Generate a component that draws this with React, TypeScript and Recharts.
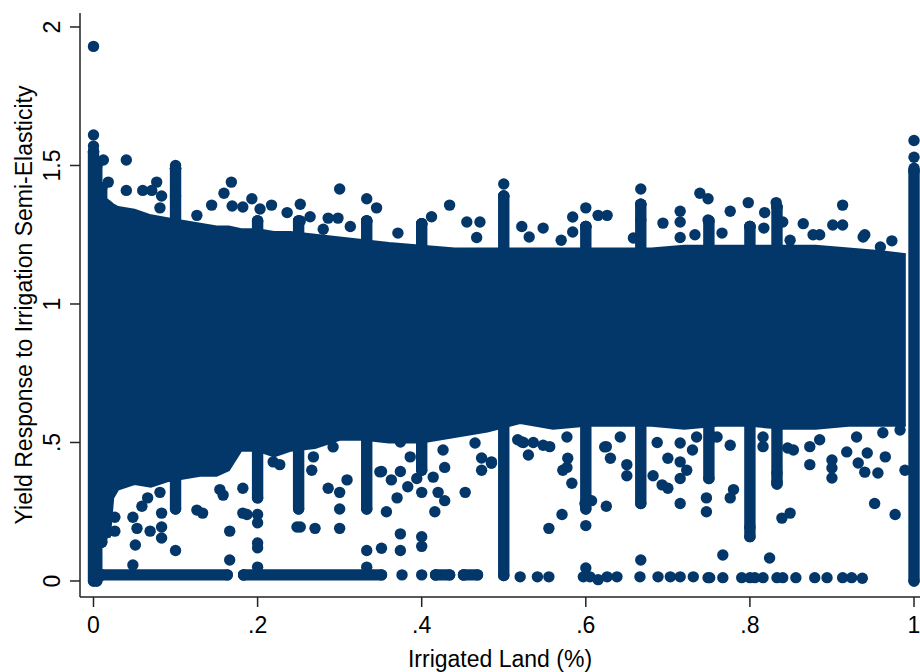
import React from 'react';
import { ComposedChart, XAxis, YAxis, Area, Scatter, ErrorBar, Label } from 'recharts';

const NAVY = '#03376a';
const R = 5.7;
const FONT = '"Liberation Sans", Arial, sans-serif';

// tick labels (Stata style, no leading zero)
const xTicks = [0, 0.2, 0.4, 0.6, 0.8, 1];
const xTickLabels = ['0', '.2', '.4', '.6', '.8', '1'];
const yTicks = [0, 0.5, 1, 1.5, 2];
const yTickLabels = ['0', '.5', '1', '1.5', '2'];

// dense cloud: lower / upper envelope
const bandX = [0.006, 0.02, 0.024, 0.03, 0.05, 0.07, 0.09, 0.11, 0.13, 0.15, 0.165, 0.18, 0.2, 0.22, 0.24, 0.27, 0.3, 0.33, 0.36, 0.4, 0.44, 0.48, 0.52, 0.56, 0.6, 0.64, 0.68, 0.72, 0.76, 0.8, 0.84, 0.88, 0.92, 0.96, 0.99];
const bandLo = [0.15, 0.16, 0.3, 0.33, 0.35, 0.34, 0.36, 0.37, 0.38, 0.38, 0.4, 0.47, 0.47, 0.45, 0.47, 0.48, 0.51, 0.51, 0.5, 0.5, 0.52, 0.54, 0.57, 0.55, 0.56, 0.56, 0.56, 0.55, 0.56, 0.56, 0.55, 0.55, 0.56, 0.56, 0.56];
const bandHi = [1.4, 1.37, 1.36, 1.35, 1.34, 1.32, 1.31, 1.3, 1.29, 1.28, 1.28, 1.27, 1.27, 1.26, 1.26, 1.25, 1.24, 1.23, 1.22, 1.21, 1.2, 1.2, 1.2, 1.2, 1.2, 1.2, 1.2, 1.21, 1.21, 1.21, 1.21, 1.21, 1.2, 1.19, 1.18];

// stacked columns of points at common shares
const colX = [0, 0.004, 0.01, 0.1, 0.2, 0.25, 0.333, 0.4, 0.5, 0.6, 0.667, 0.75, 0.8, 0.833, 1];
const colLo = [0, 0, 0.14, 0.26, 0.3, 0.26, 0.26, 0.4, 0.02, 0.26, 0.28, 0.37, 0.16, 0.35, 0];
const colHi = [1.55, 1.5, 1.42, 1.49, 1.3, 1.3, 1.3, 1.29, 1.39, 1.28, 1.36, 1.3, 1.28, 1.35, 1.48];

// runs of points along the bottom (y ~ 0.02)
const rowStart = [0.01, 0.183, 0.417, 0.451];
const rowEnd = [0.163, 0.351, 0.434, 0.468];
const rowY = 0.022;

const highPoints: [number, number][] = [
  [0, 1.93], [0, 1.61], [0, 1.57], [0.012, 1.52], [0.04, 1.52], [0.1, 1.5], [0.018, 1.44], [0.077, 1.44],
  [0.168, 1.44], [0.3, 1.415], [0.434, 1.357], [0.04, 1.41], [0.06, 1.41], [0.071, 1.41], [0.083, 1.39],
  [0.1, 1.39], [0.159, 1.4], [0.193, 1.38], [0.217, 1.357], [0.252, 1.36], [0.144, 1.357], [0.169, 1.354],
  [0.333, 1.38], [0.345, 1.347], [0.081, 1.347], [0.182, 1.35], [0.203, 1.343], [0.236, 1.33], [0.264, 1.315],
  [0.286, 1.31], [0.298, 1.31], [0.412, 1.315], [0.455, 1.296], [0.471, 1.296], [0.467, 1.24], [0.126, 1.32],
  [0.371, 1.256], [0.4, 1.29], [0.333, 1.3], [0.313, 1.28], [0.28, 1.27], [0.252, 1.3],
  [1, 1.59], [1, 1.53], [1, 1.49], [0.5, 1.433], [0.667, 1.415], [0.913, 1.357], [0.739, 1.4], [0.749, 1.38],
  [0.798, 1.366], [0.832, 1.366], [0.6, 1.347], [0.715, 1.335], [0.776, 1.335], [0.818, 1.33], [0.584, 1.314],
  [0.615, 1.32], [0.626, 1.32], [0.715, 1.296], [0.694, 1.292], [0.749, 1.303], [0.865, 1.29], [0.901, 1.285],
  [0.913, 1.285], [0.94, 1.25], [0.973, 1.228], [0.522, 1.28], [0.548, 1.274], [0.6, 1.28], [0.584, 1.26],
  [0.531, 1.242], [0.733, 1.25], [0.766, 1.256], [0.8, 1.28], [0.817, 1.274], [0.84, 1.296], [0.667, 1.303],
  [0.715, 1.24], [0.57, 1.23], [0.849, 1.23], [0.877, 1.25], [0.885, 1.25], [0.938, 1.242], [0.658, 1.238],
  [0.959, 1.206],
];

// bumps along the lower edge of the cloud
const edgePoints: [number, number][] = [
  [0.268, 0.448], [0.292, 0.484], [0.349, 0.394], [0.374, 0.502], [0.386, 0.448], [0.426, 0.473],
  [0.465, 0.498], [0.473, 0.444], [0.485, 0.43], [0.522, 0.502], [0.548, 0.49], [0.577, 0.41], [0.623, 0.484],
  [0.517, 0.51], [0.536, 0.5], [0.556, 0.485], [0.577, 0.52], [0.642, 0.52], [0.687, 0.5], [0.735, 0.52],
  [0.755, 0.52], [0.76, 0.52], [0.816, 0.52], [0.853, 0.473], [0.885, 0.51], [0.93, 0.52], [0.962, 0.535],
  [0.983, 0.545],
];

const lowPoints: [number, number][] = [
  [0.066, 0.3], [0.059, 0.27], [0.048, 0.23], [0.053, 0.19], [0.069, 0.18], [0.083, 0.245], [0.083, 0.195],
  [0.083, 0.155], [0.051, 0.13], [0.026, 0.18], [0.026, 0.23], [0.014, 0.195], [0.126, 0.256], [0.133, 0.245],
  [0.154, 0.33], [0.158, 0.31], [0.182, 0.335], [0.182, 0.245], [0.187, 0.24], [0.166, 0.18], [0.166, 0.076],
  [0.219, 0.43], [0.227, 0.42], [0.248, 0.195], [0.081, 0.32], [0.048, 0.058], [0.1, 0.11],
  [0.2, 0.24], [0.2, 0.21], [0.2, 0.137], [0.2, 0.12], [0.2, 0.05],
  [0.252, 0.195], [0.27, 0.19], [0.266, 0.4], [0.286, 0.335], [0.3, 0.32], [0.3, 0.26], [0.3, 0.19],
  [0.309, 0.365], [0.333, 0.11], [0.351, 0.118], [0.351, 0.395], [0.357, 0.25], [0.363, 0.365], [0.37, 0.3],
  [0.374, 0.395], [0.383, 0.34], [0.394, 0.37], [0.4, 0.32], [0.414, 0.375], [0.416, 0.25], [0.42, 0.32],
  [0.428, 0.29], [0.428, 0.41], [0.453, 0.32], [0.473, 0.4], [0.485, 0.425], [0.374, 0.17], [0.374, 0.11],
  [0.4, 0.16], [0.4, 0.125], [0.333, 0.05],
  [0.53, 0.455], [0.524, 0.5], [0.572, 0.4], [0.583, 0.353], [0.578, 0.443], [0.599, 0.28], [0.607, 0.29],
  [0.625, 0.27], [0.571, 0.24], [0.555, 0.19], [0.6, 0.2], [0.625, 0.485], [0.63, 0.443], [0.65, 0.42],
  [0.65, 0.38], [0.682, 0.38], [0.693, 0.347], [0.7, 0.335], [0.7, 0.443], [0.715, 0.43], [0.723, 0.4],
  [0.715, 0.37], [0.715, 0.28], [0.747, 0.3], [0.747, 0.25], [0.73, 0.473], [0.715, 0.498], [0.6, 0.047],
  [0.667, 0.076],
  [0.776, 0.49], [0.78, 0.33], [0.776, 0.3], [0.8, 0.195], [0.816, 0.485], [0.833, 0.39], [0.833, 0.357],
  [0.839, 0.227], [0.849, 0.245], [0.846, 0.48], [0.873, 0.485], [0.873, 0.42], [0.9, 0.437], [0.9, 0.408],
  [0.9, 0.372], [0.918, 0.466], [0.932, 0.426], [0.943, 0.462], [0.94, 0.393], [0.956, 0.39], [0.965, 0.448],
  [0.952, 0.28], [0.977, 0.24], [0.989, 0.4], [0.767, 0.094], [0.824, 0.083],
];

const bottomPoints: [number, number][] = [
  [0.376, 0.022], [0.4, 0.022], [0.52, 0.015], [0.541, 0.015], [0.555, 0.015], [0.597, 0.015], [0.605, 0.015],
  [0.615, 0.005], [0.626, 0.015], [0.638, 0.015], [0.666, 0.015], [0.688, 0.015], [0.703, 0.015], [0.715, 0.015],
  [0.731, 0.015], [0.749, 0.012], [0.751, 0.012], [0.767, 0.012], [0.79, 0.012], [0.8, 0.012], [0.806, 0.012],
  [0.816, 0.012], [0.833, 0.012], [0.84, 0.012], [0.856, 0.012], [0.879, 0.012], [0.894, 0.012], [0.913, 0.012],
  [0.924, 0.012], [0.937, 0.01],
];

const bandData = bandX.map((x, i) => ({ x, range: [bandLo[i], bandHi[i]] }));
const colData = colX.map((x, i) => ({ x, y: colHi[i], err: [colHi[i] - colLo[i], 0] }));
const rowData = rowStart.map((x, i) => ({ x, y: rowY, err: [0, rowEnd[i] - x] }));
const toXY = (pts: [number, number][]) => pts.map(([x, y]) => ({ x, y }));

const Dot = (p: any) => <circle cx={p.cx} cy={p.cy} r={R} fill={NAVY} />;

const YTick = (p: any) => {
  const i = yTicks.indexOf(p.payload.value);
  return (
    <text x={p.x} y={p.y} transform={`rotate(-90, ${p.x}, ${p.y})`} textAnchor="middle"
      fontSize={23} fontFamily={FONT} fill="#000">
      {yTickLabels[i]}
    </text>
  );
};

const App: React.FC = () => {
  return (
    <div style={{ position: 'absolute', left: 0, top: 0, width: 920, height: 672, background: '#fff' }}>
      <ComposedChart width={920} height={672} margin={{ top: 13, right: 0, bottom: 0, left: 0 }}>
        <XAxis type="number" dataKey="x" domain={[-0.01645, 1.0073]} ticks={xTicks} allowDataOverflow
          tickFormatter={(v: number) => xTickLabels[xTicks.indexOf(v)]}
          height={75} tickSize={10} tickMargin={10}
          stroke="#222" strokeWidth={1.5}
          tick={{ fontSize: 23, fontFamily: FONT, fill: '#000' }}>
          <Label value="Irrigated Land (%)" position="insideBottom" offset={5}
            style={{ fontSize: 23, fontFamily: FONT, fill: '#000' }} />
        </XAxis>
        <YAxis type="number" dataKey="y" domain={[-0.0578, 2.0505]} ticks={yTicks} allowDataOverflow
          width={80} tickSize={10} tickMargin={10} tick={<YTick />}
          stroke="#222" strokeWidth={1.5}>
          <Label value="Yield Response to Irrigation Semi-Elasticity" angle={-90} position="insideLeft" offset={24}
            style={{ fontSize: 23, fontFamily: FONT, fill: '#000', textAnchor: 'middle' }} />
        </YAxis>

        {/* dense cloud */}
        <Area data={bandData} dataKey="range" type="linear" stroke={NAVY} strokeWidth={2}
          fill={NAVY} fillOpacity={1} isAnimationActive={false} />

        {/* columns at common values */}
        <Scatter data={colData} shape={Dot} isAnimationActive={false}>
          <ErrorBar dataKey="err" direction="y" width={0} stroke={NAVY} strokeWidth={R * 2}
            strokeLinecap="round" isAnimationActive={false} />
        </Scatter>

        {/* runs along the bottom */}
        <Scatter data={rowData} shape={Dot} isAnimationActive={false}>
          <ErrorBar dataKey="err" direction="x" width={0} stroke={NAVY} strokeWidth={R * 2}
            strokeLinecap="round" isAnimationActive={false} />
        </Scatter>

        <Scatter data={toXY(highPoints)} shape={Dot} isAnimationActive={false} />
        <Scatter data={toXY(edgePoints)} shape={Dot} isAnimationActive={false} />
        <Scatter data={toXY(lowPoints)} shape={Dot} isAnimationActive={false} />
        <Scatter data={toXY(bottomPoints)} shape={Dot} isAnimationActive={false} />
      </ComposedChart>
    </div>
  );
};

export default App;
